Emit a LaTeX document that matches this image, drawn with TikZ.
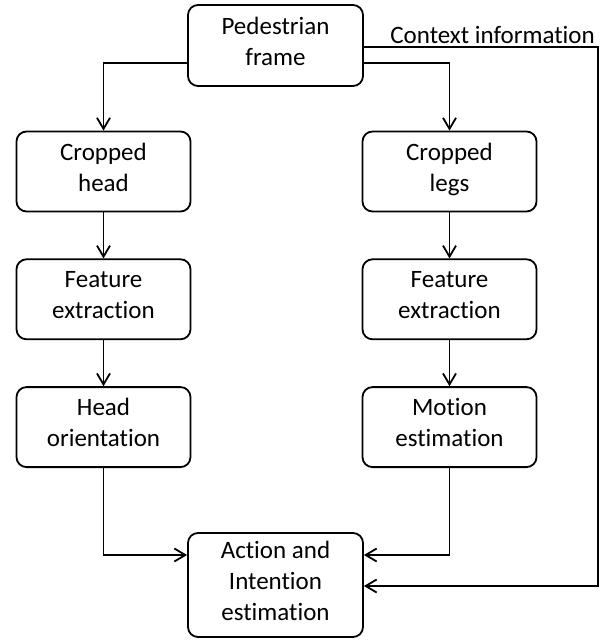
\documentclass[tikz,border=0pt]{standalone}
\usepackage{fontspec}
\setmainfont{Carlito}[Ligatures=NoCommon]
\usepackage{tikz}
\usetikzlibrary{arrows.meta,positioning}

\begin{document}
\begin{tikzpicture}[node distance=46pt,
  box/.style={draw, rounded corners=10pt, line width=1.8pt, align=center,
    minimum width=174pt, minimum height=80pt, inner sep=0pt,
    font=\fontsize{25pt}{31pt}\selectfont,
    execute at begin node=\strut, execute at end node=\strut},
  link/.style={line width=1.8pt, -{Straight Barb[length=11pt,width=13pt,line width=1.8pt]}}]
  \useasboundingbox (0pt,0pt) rectangle (611pt,-641pt);

  \node[box, minimum width=175pt, minimum height=81pt] (frame) at (275.5pt,-45.5pt)
  {Pedestrian\\frame};
  \node[box] (head) at (103.5pt,-171.5pt)
  {Cropped\\head};
  \node[box] (legs) at (449.5pt,-171.5pt)
  {Cropped\\legs};
  \node[box, below=of head]  (feat head)
  {Feature\\extraction};
  \node[box, below=of legs]  (feat legs)
  {Feature\\extraction};
  \node[box, below=of feat head]  (orient)
  {Head\\orientation};
  \node[box, below=of feat legs]  (motion)
  {Motion\\estimation};
  \node[box, minimum width=175pt, minimum height=104pt] (action) at (275.5pt,-585pt)
  {Action and\\Intention\\estimation};
  \coordinate (ctx) at (598pt,-47pt);

  \draw[link] ([yshift=-17.5pt]frame.west) -| (head);
  \draw[link] ([yshift=-17.5pt]frame.east) -| (legs);
  \draw[link] (head) -- (feat head);
  \draw[link] (legs) -- (feat legs);
  \draw[link] (feat head) -- (orient);
  \draw[link] (feat legs) -- (motion);
  \draw[link] (orient) |- ([yshift=30pt]action.west);
  \draw[link] (motion) |- ([yshift=30pt]action.east);
  \draw[link] (ctx -| frame.east) -- (ctx) |- ([yshift=-1pt]action.east);
  \node[anchor=base east, inner sep=0pt, font=\fontsize{25pt}{31pt}\selectfont]
  (ctx label) at ([xshift=-3pt,yshift=4pt]ctx) {Context information};
\end{tikzpicture}
\end{document}
